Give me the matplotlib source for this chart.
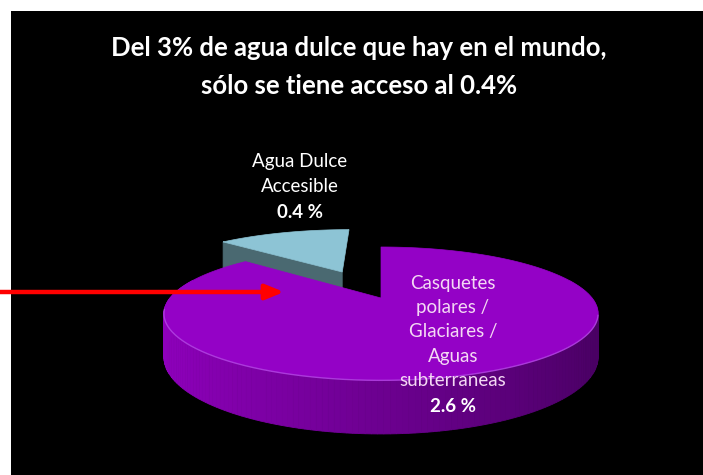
import numpy as np
import matplotlib
matplotlib.use("Agg")
import matplotlib.pyplot as plt
from matplotlib.patches import Polygon, Rectangle

# data
title_lines = ["Del 3% de agua dulce que hay en el mundo,", "sólo se tiene acceso al 0.4%"]
names = [["Agua Dulce", "Accesible"],
         ["Casquetes", "polares /", "Glaciares /", "Aguas", "subterraneas"]]
values = [0.4, 2.6]
top_colors = ["#8DC4D5", "#9402C6"]
cut_colors = ["#4A6971", "#6A0090"]
explode = [0.5, 0.0]

# 3d pie geometry (pixel space)
X0, Y0 = 381, 298
A, B = 211, 63
K = 0.235
DEPTH = 41
start_angle = 90.0


def project(u, v, drop=0.0):
    w = 1 + K * v
    return X0 + A * u / w, Y0 - B * v / w + drop / w


def arc(cu, cv, t0, t1, n=200, drop=0.0):
    t = np.radians(np.linspace(t0, t1, n))
    return project(cu + np.cos(t), cv + np.sin(t), drop)


# black slide, white strips on the top and left
fig = plt.figure(figsize=(7.03, 4.75), dpi=100, facecolor="black")
fig.add_artist(Rectangle((0, 464 / 475), 1, 11 / 475, transform=fig.transFigure,
                         facecolor="white", edgecolor="none", zorder=0))
fig.add_artist(Rectangle((0, 0), 11 / 703, 1, transform=fig.transFigure,
                         facecolor="white", edgecolor="none", zorder=0))

ax = fig.add_axes([0, 0, 1, 1])
ax.set_xlim(0, 703)
ax.set_ylim(475, 0)
ax.axis("off")

fracs = np.array(values) / sum(values)
spans = fracs * 360
angles = start_angle + np.concatenate([[0], np.cumsum(spans)])

light = np.array([0.57, 0.0, 0.75])
dark = np.array([0.28, 0.0, 0.38])

for i in range(len(values)):
    t0, t1 = angles[i], angles[i + 1]
    mid = np.radians((t0 + t1) / 2)
    cu, cv = explode[i] * np.cos(mid), explode[i] * np.sin(mid)
    z = 2 + i * 3

    # outer wall, back strips first
    t = np.linspace(t0, t1, 241)
    strips = []
    for a, b in zip(t[:-1], t[1:]):
        m = np.radians((a + b) / 2)
        if np.sin(m) > 0.3:
            continue
        strips.append((np.sin(m), a, b, m))
    strips.sort(key=lambda s: -s[0])
    for _, a, b, m in strips:
        xt, yt = arc(cu, cv, a, b, 3)
        xb, yb = arc(cu, cv, a, b, 3, DEPTH)
        shade = (1 + np.cos(m)) / 2
        if i == 0:
            col = np.array([0.25, 0.38, 0.42])
        else:
            col = light * (1 - shade) + dark * shade
        ax.add_patch(Polygon(np.column_stack([np.r_[xt, xb[::-1]], np.r_[yt, yb[::-1]]]),
                             closed=True, facecolor=col, edgecolor=col, lw=0.6, zorder=z))

    # radial cut faces that face the viewer
    cx, cy = project(cu, cv)
    cxd, cyd = project(cu, cv, DEPTH)
    for ang, side in ((t0, -1), (t1, 1)):
        normal = np.radians(ang + 90 * side)
        if np.sin(normal) > -0.2:
            continue
        px, py = project(cu + np.cos(np.radians(ang)), cv + np.sin(np.radians(ang)))
        pxd, pyd = project(cu + np.cos(np.radians(ang)), cv + np.sin(np.radians(ang)), DEPTH)
        ax.add_patch(Polygon([(cx, cy), (px, py), (pxd, pyd), (cxd, cyd)], closed=True,
                             facecolor=cut_colors[i], edgecolor=cut_colors[i], lw=0.5, zorder=z + 1))

    # top face
    xa, ya = arc(cu, cv, t0, t1, 300)
    ax.add_patch(Polygon(np.column_stack([np.r_[cx, xa], np.r_[cy, ya]]), closed=True,
                         facecolor=top_colors[i], edgecolor=top_colors[i], lw=0.5, zorder=z + 2))

# light rim along the front edge of the big slice
xr, yr = arc(0, 0, 190, 345, 200)
ax.plot(xr, yr, color="#C060F0", lw=1.0, alpha=0.6, zorder=9)

font = "Lato"
for k, line in enumerate(title_lines):
    ax.text(359, 48 + 38 * k, line, color="white", fontsize=18.5, fontweight="bold",
            family=font, ha="center", va="center", zorder=12)

# slice labels
label_pos = [(300, 162), (453, 283)]
label_colors = ["white", "#F4D8F4"]
for i, (lx, ly) in enumerate(label_pos):
    for k, line in enumerate(names[i]):
        ax.text(lx, ly + 24.5 * k, line, color=label_colors[i], fontsize=13.5,
                family=font, ha="center", va="center", zorder=12)
    ax.text(lx, ly + 24.5 * len(names[i]) + 1, f"{values[i]:.1f} %", color="white",
            fontsize=13.5, fontweight="bold", family=font, ha="center", va="center", zorder=12)

ax.annotate("", xy=(284, 292), xytext=(0, 292), zorder=13,
            arrowprops=dict(arrowstyle="-|>,head_length=1.1,head_width=0.45",
                            color="#FF0000", lw=3.2, shrinkA=0, shrinkB=0))

fig.savefig("out.png", dpi=100, facecolor="black")
